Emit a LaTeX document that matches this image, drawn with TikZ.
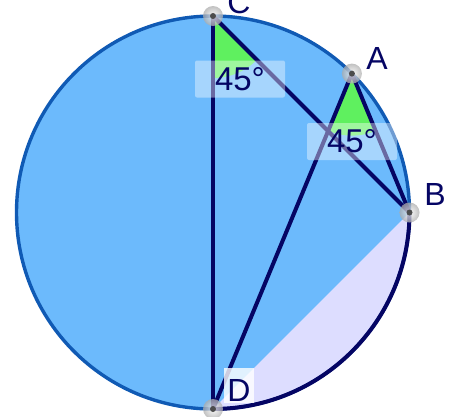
\documentclass[tikz,border=0pt]{standalone}
\usepackage{fontspec}
\setmainfont{Liberation Sans}
\definecolor{discblue}{RGB}{108,186,252}
\definecolor{rimblue}{RGB}{16,90,180}
\definecolor{navyline}{RGB}{5,5,100}
\definecolor{segfill}{RGB}{221,221,255}
\definecolor{anggreen}{RGB}{95,240,95}
\tikzset{
  seg/.style={navyline, line width=4pt, line cap=round},
  anglabel/.style={fill=white, fill opacity=0.4, text opacity=1, rounded corners=2pt,
    minimum width=90pt, minimum height=37pt, inner sep=0pt, text=navyline,
    font=\fontsize{33}{36}\selectfont},
  ptlabel/.style={text=navyline, inner sep=0pt, font=\fontsize{32}{35}\selectfont},
  ptdot/.style={inner color=white!95!gray, outer color=gray!65, opacity=0.75}
}
\begin{document}
\begin{tikzpicture}[x=1pt,y=-1pt]
    \useasboundingbox (0,0) rectangle (452,416);
    % points on the circle
    \coordinate (O) at (213,212.5);
    \coordinate (C) at (213,16);
    \coordinate (D) at (213,409);
    \coordinate (B) at (409.5,212.5);
    \coordinate (A) at (351.9,73.6);
    % disc and segment BD
    \fill[discblue] (O) circle (196.5);
    \fill[segfill] (B) arc[start angle=0, end angle=90, radius=196.5] -- cycle;
    \draw[rimblue, line width=3.4pt] (O) circle (196.5);
    \draw[navyline, line width=4pt] (B) arc[start angle=0, end angle=90, radius=196.5];
    % angle marks
    \fill[anggreen] (C) -- ++(45:62) arc[start angle=45, end angle=90, radius=62] -- cycle;
    \fill[anggreen] (A) -- ++(67.5:62) arc[start angle=67.5, end angle=112.5, radius=62] -- cycle;
    % chords
    \draw[seg] (C) -- (D);
    \draw[seg] (C) -- (B);
    \draw[seg] (A) -- (B);
    \draw[seg] (A) -- (D);
    % angle labels
    \node[anglabel] (angC) at (240,79) {45°};
    \node[anglabel] (angA) at (352,141.5) {45°};
    % points
    \foreach \p in {A,B,C,D}{
        \shade[ptdot] (\p) circle (10);
        \fill[black!70] (\p) circle (3);
    }
    \node[ptlabel] (labC) at (239,2) {C};
    \node[ptlabel] (labA) at (377,58) {A};
    \node[ptlabel] (labB) at (435,194) {B};
    \node[fill=white, fill opacity=0.8, text opacity=1, minimum width=30pt, minimum height=35pt, inner sep=0pt] (boxD) at (239,385.5) {};
    \node[ptlabel] (labD) at (239,390) {D};
\end{tikzpicture}
\end{document}
